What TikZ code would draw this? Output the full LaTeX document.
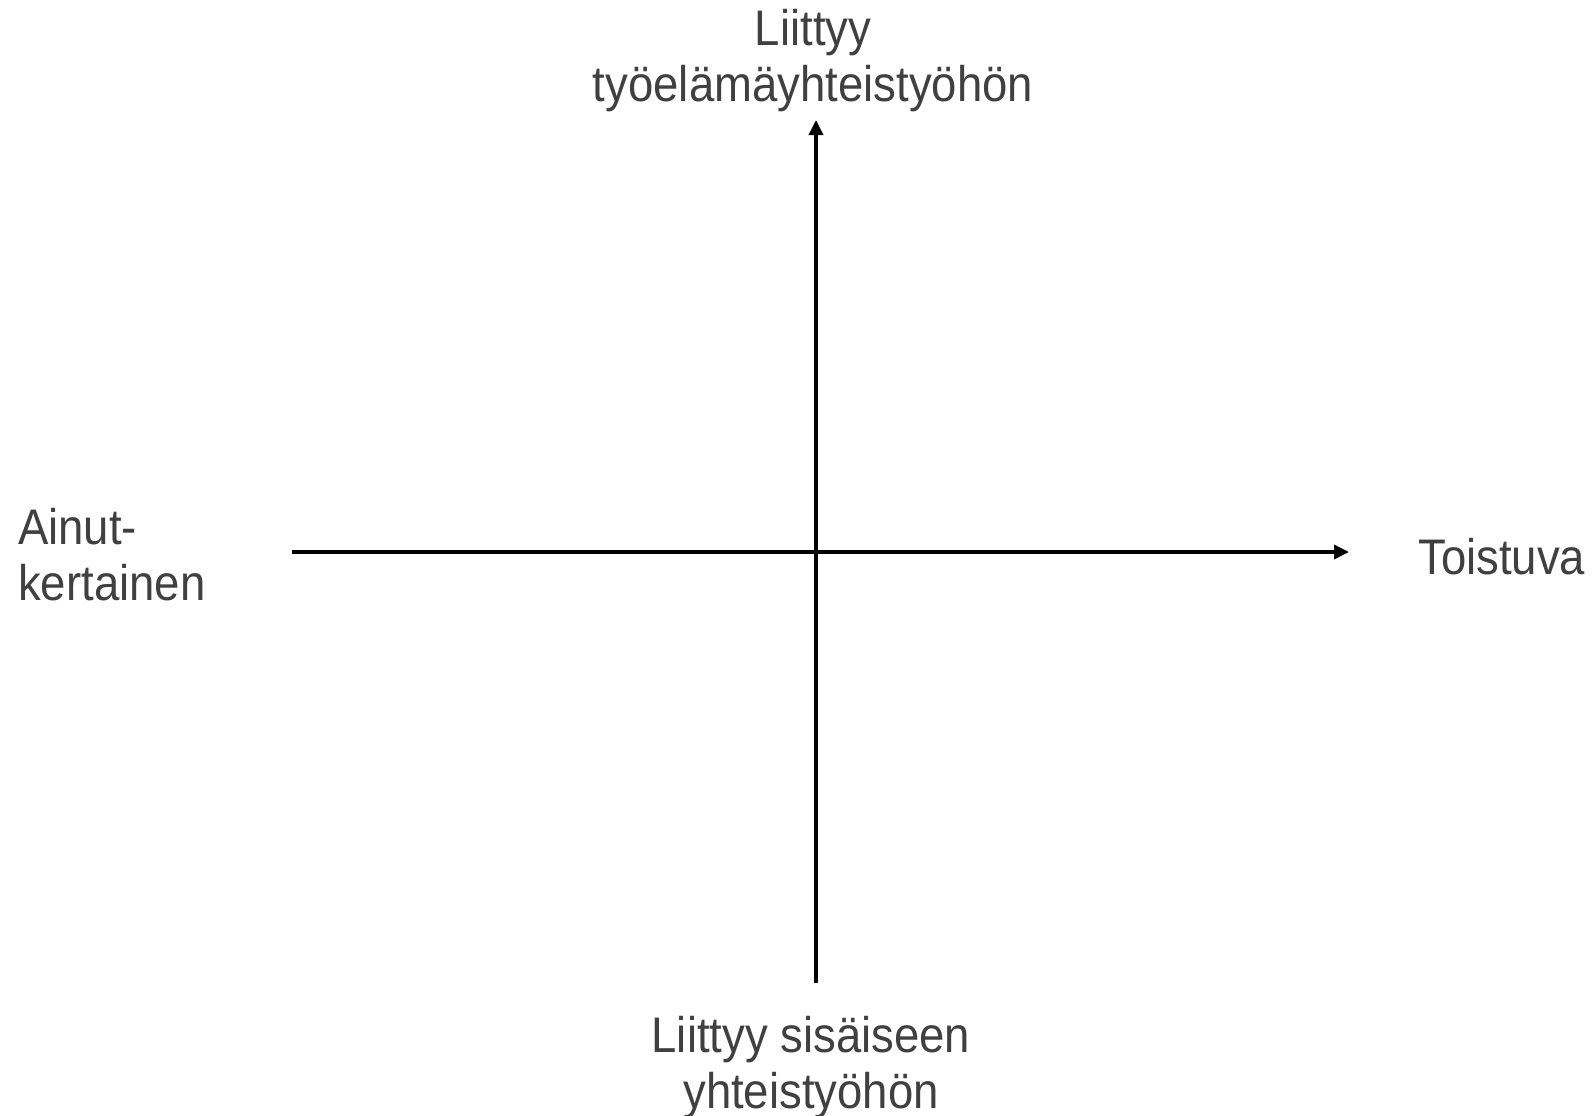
\documentclass[tikz,border=0pt]{standalone}
\usepackage{fontspec}
\setmainfont{Liberation Sans}[FakeStretch=0.91]
\usetikzlibrary{arrows.meta}
\definecolor{labelgray}{HTML}{404040}
\begin{document}
\begin{tikzpicture}[
			x=1pt, y=-1pt,
			axis/.style={line width=3.4pt, -{Triangle[length=15pt, width=14pt]}},
			alabel/.style={inner sep=0pt, text=labelgray, font=\fontsize{50}{56}\selectfont},
		]
		\useasboundingbox (0, 0) rectangle (1593, 1116);

		\coordinate (ystart) at (816, 983);
		\coordinate (yend)   at (816, 120);
		\coordinate (xstart) at (292, 552);
		\coordinate (xend)   at (1349, 552);

		% base = last line
		\node[alabel, anchor=base, align=center] (top)    at (813, 102)  {Liittyy\\työelämäyhteistyöhön};
		\node[alabel, anchor=base, align=center] (bottom) at (811, 1108) {Liittyy sisäiseen\\yhteistyöhön};
		\node[alabel, anchor=base west, align=left] (left) at (18, 600)  {Ainut-\\kertainen};
		\node[alabel, anchor=base west] (right) at (1418, 574) {Toistuva};

		% axes
		\draw[axis] (xstart) -- (xend);
		\draw[axis] (ystart) -- (yend);
	\end{tikzpicture}
\end{document}
